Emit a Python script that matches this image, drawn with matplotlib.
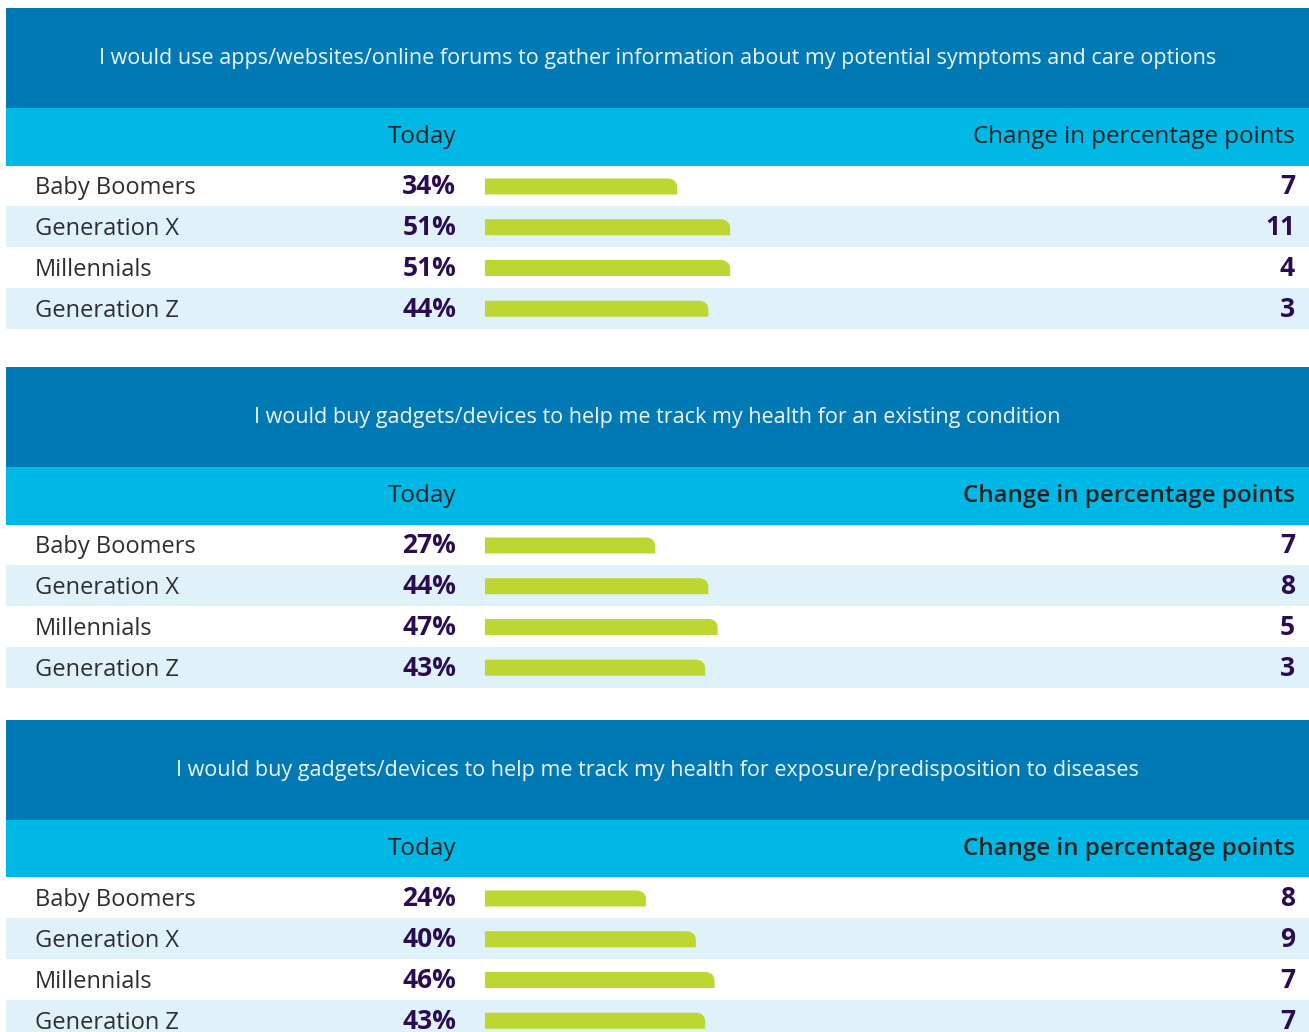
import matplotlib
matplotlib.use("Agg")
import matplotlib.pyplot as plt
from matplotlib.patches import Rectangle, PathPatch
from matplotlib.path import Path
from matplotlib.transforms import blended_transform_factory

# ---------------------------------------------------------------- data
questions = [
    "I would use apps/websites/online forums to gather information about my potential symptoms and care options",
    "I would buy gadgets/devices to help me track my health for an existing condition",
    "I would buy gadgets/devices to help me track my health for exposure/predisposition to diseases",
]
groups = ["Baby Boomers", "Generation X", "Millennials", "Generation Z"]
today_q1 = [34, 51, 51, 44]
today_q2 = [27, 44, 47, 43]
today_q3 = [24, 40, 46, 43]
change_q1 = [7, 11, 4, 3]
change_q2 = [7, 8, 5, 3]
change_q3 = [8, 9, 7, 7]
col_today = "Today"
col_change = "Change in percentage points"
change_header_bold = [False, True, True]

# ---------------------------------------------------------------- style
DARK = "#0079b4"
LIGHT = "#00b8e5"
STRIPE = "#dff2f9"
BAR = "#bdd632"
PURPLE = "#2c0c50"
GREY = "#2e2e2e"

W, H = 1309, 1032
PANEL_LEFT, PANEL_RIGHT = 6, 1309
panel_tops = [8, 367, 720]
DARK_H, LIGHT_H, ROW_H = 100, 57.5, 40.75
BAR_START_PX, ZERO_PX, PX_PER_PT = 485, 571, 3.12
BAR_H_PX = 16

plt.rcParams['font.family'] = ['Open Sans', 'DejaVu Sans']

fig = plt.figure(figsize=(W / 100, H / 100), dpi=100)
fig.patch.set_facecolor("white")


def rounded_bar(x0, x1, yc, h, rx, ry):
    # y axis is inverted, so the visual top is yc - h/2
    yt, yb = yc - h / 2, yc + h / 2
    k = 0.5523
    verts = [(x0, yb), (x1, yb), (x1, yt + ry),
             (x1, yt + ry - k * ry), (x1 - rx + k * rx, yt), (x1 - rx, yt),
             (x0, yt), (x0, yb)]
    codes = [Path.MOVETO, Path.LINETO, Path.LINETO,
             Path.CURVE4, Path.CURVE4, Path.CURVE4,
             Path.LINETO, Path.CLOSEPOLY]
    return Path(verts, codes)


todays = [today_q1, today_q2, today_q3]
changes = [change_q1, change_q2, change_q3]

for k, question in enumerate(questions):
    top = panel_tops[k]
    n = len(groups)
    height_px = DARK_H + LIGHT_H + n * ROW_H
    ax = fig.add_axes([PANEL_LEFT / W, 1 - (top + height_px) / H,
                       (PANEL_RIGHT - PANEL_LEFT) / W, height_px / H])
    ax.set_xlim((PANEL_LEFT - ZERO_PX) / PX_PER_PT, (PANEL_RIGHT - ZERO_PX) / PX_PER_PT)
    head_units = (DARK_H + LIGHT_H) / ROW_H
    ax.set_ylim(n - 0.5, -0.5 - head_units)
    ax.axis("off")

    def ypx(px):
        # pixels from the panel top -> data y
        return -0.5 - head_units + px / ROW_H

    def xfrac(px):
        return (px - PANEL_LEFT) / (PANEL_RIGHT - PANEL_LEFT)

    trans = blended_transform_factory(ax.transAxes, ax.transData)

    # header bands
    ax.add_patch(Rectangle((0, ypx(0)), 1, DARK_H / ROW_H, transform=trans,
                           facecolor=DARK, edgecolor="none", zorder=0))
    ax.add_patch(Rectangle((0, ypx(DARK_H)), 1, LIGHT_H / ROW_H, transform=trans,
                           facecolor=LIGHT, edgecolor="none", zorder=0))
    for i in range(n):
        if i % 2 == 1:
            ax.axhspan(i - 0.5, i + 0.5, color=STRIPE, lw=0, zorder=0)

    ax.text(0.5, ypx(56.3), question, transform=trans, ha="center", va="baseline",
            fontsize=15.5, color="#eef7fb")
    ax.text(xfrac(456), ypx(DARK_H + 35), col_today, transform=trans, ha="right",
            va="baseline", fontsize=17.5, color="#222222")
    ax.text(xfrac(1295), ypx(DARK_H + 35), col_change, transform=trans, ha="right",
            va="baseline", fontsize=17.4, color="#222222",
            fontweight="semibold" if change_header_bold[k] else "normal")

    # bars
    base = (BAR_START_PX - ZERO_PX) / PX_PER_PT
    bh = BAR_H_PX / ROW_H
    bars = ax.barh([i + 0.6 / ROW_H for i in range(n)],
                   [v - base for v in todays[k]], left=base, height=bh,
                   color=BAR, zorder=2)
    rx = 9 / PX_PER_PT
    ry = 8 / ROW_H
    for b in bars:
        x0 = b.get_x()
        x1 = x0 + b.get_width()
        yc = b.get_y() + b.get_height() / 2
        ax.add_patch(PathPatch(rounded_bar(x0, x1, yc, bh, rx, ry),
                               facecolor=BAR, edgecolor="none", zorder=3))
        b.remove()

    for i, (g, v, c) in enumerate(zip(groups, todays[k], changes[k])):
        yb = i + 8.6 / ROW_H
        ax.text(xfrac(35), yb, g, transform=trans, ha="left", va="baseline",
                fontsize=17, color=GREY)
        ax.text(xfrac(456), yb, f"{v}%", transform=trans, ha="right", va="baseline",
                fontsize=19, fontweight="bold", color=PURPLE)
        ax.text(xfrac(1295), yb, f"{c}", transform=trans, ha="right", va="baseline",
                fontsize=19, fontweight="bold", color=PURPLE)

fig.savefig("out.png", dpi=100, facecolor="white")
